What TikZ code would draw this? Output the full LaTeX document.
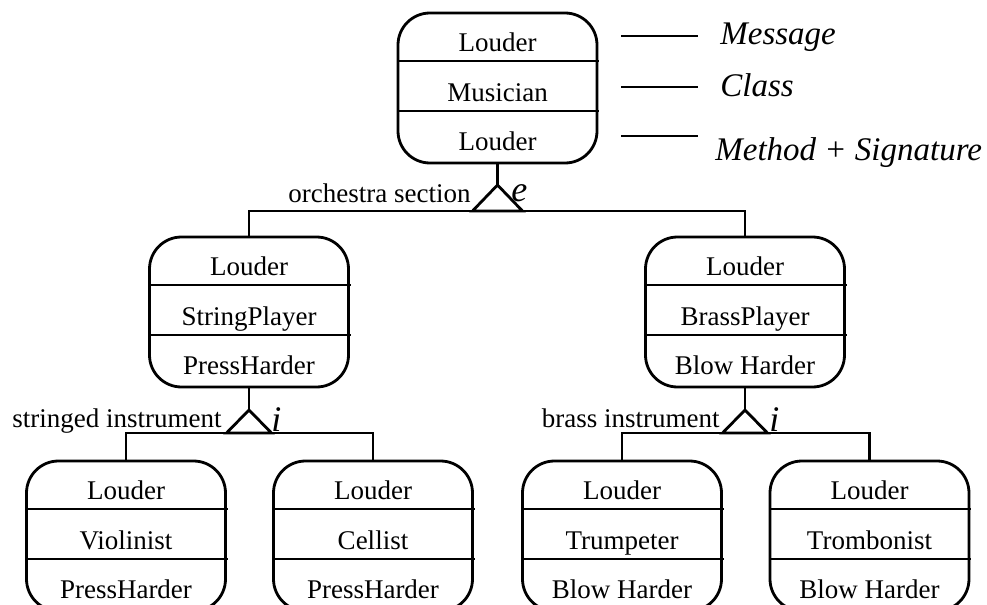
\documentclass[tikz,border=0pt]{standalone}
\usepackage{fontspec}
\setmainfont{Liberation Serif}
\usetikzlibrary{calc}

\tikzset{
  classbox/.style={draw, rounded corners=16pt, minimum width=99.5pt,
    minimum height=75pt, inner sep=0pt, outer sep=0pt, line width=1.4pt,
    anchor=north},
  boxtext/.style={anchor=base, inner sep=0pt,
    font=\fontsize{13.5}{16}\selectfont},
  kindlabel/.style={anchor=base east, inner sep=0pt,
    font=\fontsize{13.5}{16}\selectfont},
  kindmark/.style={anchor=base west, inner sep=0pt,
    font=\fontsize{18}{20}\selectfont\itshape},
  legendtext/.style={anchor=base west, inner sep=0pt,
    font=\fontsize{16.5}{20}\selectfont\itshape},
  wire/.style={line width=1.4pt},
}

% A three-part class box: message, class name, method
\newcommand\ClassBox[6]{%
  \node[classbox] (#1) at (#2,#3) {};
  \draw[wire] ([yshift=-24pt]#1.north west) -- ([xshift=1pt,yshift=-24pt]#1.north east);
  \draw[wire] ([yshift=-49pt]#1.north west) -- ([xshift=1pt,yshift=-49pt]#1.north east);
  \node[boxtext] (#1-msg) at ([yshift=-19pt]#1.north) {#4};
  \node[boxtext] (#1-cls) at ([yshift=-44pt]#1.north) {#5};
  \node[boxtext] (#1-mth) at ([yshift=-68.5pt]#1.north) {#6};
}

\begin{document}
\begin{tikzpicture}[x=0.5pt, y=-0.5pt]
\useasboundingbox (0,0) rectangle (987,605);
\fill[white] (0,0) rectangle (987,605);
\clip (0,0) rectangle (987,605);

% class boxes
\ClassBox{mus}{497.5}{13}{Louder}{Musician}{Louder}
\ClassBox{sp}{249}{237}{Louder}{StringPlayer}{PressHarder}
\ClassBox{bp}{745}{237}{Louder}{BrassPlayer}{Blow Harder}
\ClassBox{vi}{126}{461}{Louder}{Violinist}{PressHarder}
\ClassBox{ce}{373}{461}{Louder}{Cellist}{PressHarder}
\ClassBox{tp}{622}{461}{Louder}{Trumpeter}{Blow Harder}
\ClassBox{tb}{869.5}{461}{Louder}{Trombonist}{Blow Harder}

% orchestra section (e)
\coordinate (e-apex) at (497.5,185);
\coordinate (e-bar) at (497.5,211);
\draw[wire] (mus.south) -- (e-apex);
\draw[wire] (e-apex) -- ++(-25,26) -- ++(50,0) -- cycle;
\draw[wire] (sp.north) |- (e-bar) -| (bp.north);
\node[kindlabel] (e-lbl) at (471,202) {orchestra section};
\node[kindmark] (e-mk) at (511,201) {e};

% stringed instrument (i)
\coordinate (s-apex) at (249,410);
\coordinate (s-bar) at (249,433);
\draw[wire] (sp.south) -- (s-apex);
\draw[wire] (s-apex) -- ++(-22.5,23) -- ++(45,0) -- cycle;
\draw[wire] (vi.north) |- (s-bar) -| (ce.north);
\node[kindlabel] (s-lbl) at (222,427) {stringed instrument};
\node[kindmark] (s-mk) at (271,431) {i};

% brass instrument (i)
\coordinate (b-apex) at (745,410);
\coordinate (b-bar) at (745,433);
\draw[wire] (bp.south) -- (b-apex);
\draw[wire] (b-apex) -- ++(-22.5,23) -- ++(45,0) -- cycle;
\draw[wire] (tp.north) |- (b-bar) -| (tb.north);
\node[kindlabel] (b-lbl) at (720,427) {brass instrument};
\node[kindmark] (b-mk) at (769,431) {i};

% legend
\coordinate (k1a) at (621,36);  \coordinate (k1b) at (698,36);
\coordinate (k2a) at (621,87);  \coordinate (k2b) at (698,87);
\coordinate (k3a) at (621,136); \coordinate (k3b) at (698,136);
\draw[wire] (k1a) -- (k1b);
\draw[wire] (k2a) -- (k2b);
\draw[wire] (k3a) -- (k3b);
\node[legendtext] (k1) at (720,45) {Message};
\node[legendtext] (k2) at (720,97) {Class};
\node[legendtext] (k3) at (715,160) {Method + Signature};
\end{tikzpicture}
\end{document}
